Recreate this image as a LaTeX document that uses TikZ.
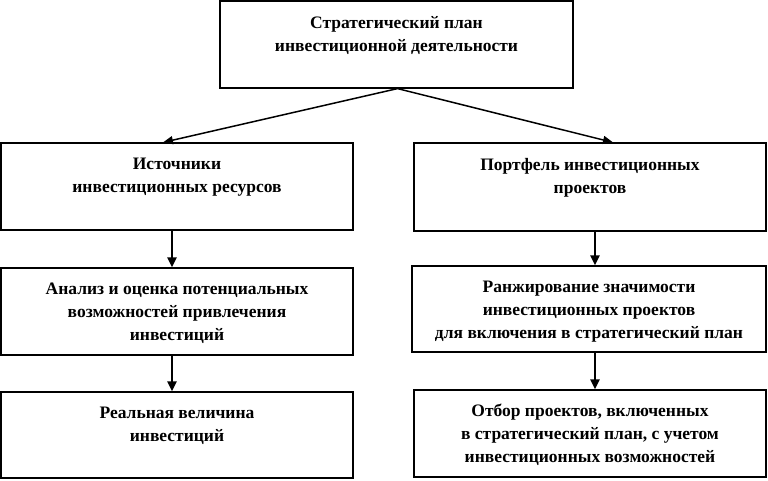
\documentclass[tikz,border=0pt]{standalone}
\usepackage{fontspec}
\setmainfont{Liberation Serif}
\usetikzlibrary{arrows.meta}
\begin{document}
\begin{tikzpicture}[x=1pt,y=-1pt,
  box/.style={draw,line width=1.2pt,rectangle,inner sep=0pt,minimum width=352pt,minimum height=87pt},
  txt/.style={anchor=north,inner sep=0pt,align=center,font=\fontsize{17.5}{23}\selectfont\bfseries},
  thinarrow/.style={line width=1.5pt,-{Triangle[length=10pt,width=8pt]}},
  thickarrow/.style={line width=2.6pt,-{Triangle[length=10pt,width=9pt]}}]
\useasboundingbox (0,0) rectangle (768,481);
% boxes
\node[box,minimum width=353pt] (top) at (396.5,44.5) {};
\node[box] (l1) at (177,186.5) {};
\node[box,minimum height=88pt] (r1) at (590,187) {};
\node[box] (l2) at (177,311.5) {};
\node[box,minimum width=354pt,minimum height=86pt] (r2) at (589,309) {};
\node[box,minimum height=86pt] (l3) at (177,435) {};
\node[box] (r3) at (590,433.5) {};
% texts
\node[txt] (ttop) at (396.5,16) {Стратегический план\\инвестиционной деятельности};
\node[txt] (tl1) at (177,158) {Источники\\инвестиционных ресурсов};
\node[txt] (tr1) at (590,158) {Портфель инвестиционных\\проектов};
\node[txt] (tl2) at (177,283) {Анализ и оценка потенциальных\\возможностей привлечения\\инвестиций};
\node[txt] (tr2) at (589,281) {Ранжирование значимости\\инвестиционных проектов\\для включения в стратегический план};
\node[txt] (tl3) at (177,407) {Реальная величина\\инвестиций};
\node[txt] (tr3) at (590,404) {Отбор проектов, включенных\\в стратегический план, с учетом\\инвестиционных возможностей};
% arrows
\draw[thinarrow] ([xshift=1pt]top.south) -- ([xshift=-14pt]l1.north);
\draw[thinarrow] ([xshift=1pt]top.south) -- ([xshift=23pt]r1.north);
\draw[thickarrow] ([xshift=-5pt]l1.south) -- ([xshift=-5pt]l2.north);
\draw[thickarrow] ([xshift=-5pt]l2.south) -- ([xshift=-5pt]l3.north);
\draw[thickarrow] ([xshift=5pt]r1.south) -- ([xshift=6pt]r2.north);
\draw[thickarrow] ([xshift=6pt]r2.south) -- ([xshift=5pt]r3.north);
\end{tikzpicture}
\end{document}
